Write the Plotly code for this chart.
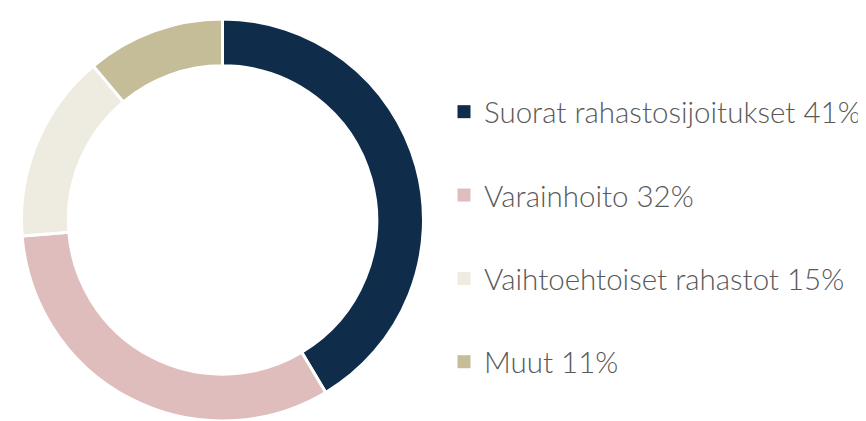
import plotly.graph_objects as go

labels = ["Suorat rahastosijoitukset 41%", "Varainhoito 32%",
          "Vaihtoehtoiset rahastot 15%", "Muut 11%"]
values = [41, 32, 15, 11]
colors = ["#0F2D4A", "#DFBDBD", "#EEEBE0", "#C4BD97"]

W, H, OFF = 866, 421, 8  # page body has an 8px margin

fig = go.Figure()
fig.add_trace(go.Pie(
    labels=labels, values=values, sort=False, direction="clockwise",
    rotation=0, hole=0.767, textinfo="none", hoverinfo="label",
    marker=dict(colors=colors, line=dict(color="white", width=3)),
    showlegend=False,
    domain=dict(x=[(21 - OFF) / W, (424 - OFF) / W],
                y=[1 - (421 - OFF) / H, 1 - (19 - OFF) / H]),
))
for i, (lab, col) in enumerate(zip(labels, colors)):
    fig.add_trace(go.Scatter(
        x=[None], y=[None], mode="markers", name=lab, legendgroup=f"g{i}",
        marker=dict(symbol="square", size=13, color=col),
        showlegend=True,
    ))

fig.update_layout(
    width=W, height=H,
    margin=dict(l=0, r=0, t=0, b=0, autoexpand=False),
    paper_bgcolor="white", plot_bgcolor="white",
    xaxis=dict(visible=False), yaxis=dict(visible=False),
    legend=dict(
        x=436 / W, xanchor="left",
        y=1 - (237 - OFF) / H, yanchor="middle",
        font=dict(family="Lato", size=29.5, color="#595959", weight=300),
        tracegroupgap=42, bgcolor="rgba(0,0,0,0)",
    ),
)
fig.write_html("out.html")
